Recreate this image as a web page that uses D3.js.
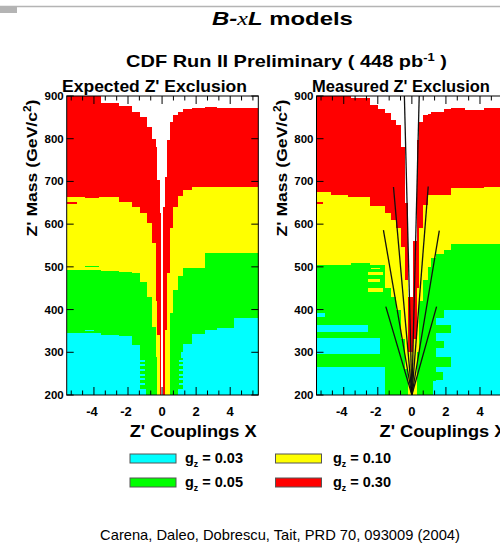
<!DOCTYPE html>
<html>
<head>
<meta charset="utf-8">
<script src="https://cdn.jsdelivr.net/npm/d3@7"></script>
<style>
  body { margin: 0; background: #fff; }
  svg { display: block; }
  text { font-family: "Liberation Sans", Arial, Helvetica, sans-serif; fill: #000; }
</style>
</head>
<body>
<svg id="chart" width="500" height="544"></svg>
<script>
// ---- legend / couplings ----
const couplingLabels = ["0.03", "0.05", "0.10", "0.30"];
const couplingColors = ["#00ffff", "#00ff00", "#ffff00", "#ff0000"];

// ---- axes ----
const xTickLabels = [-4, -2, 0, 2, 4];
const massTickLabels = [200, 300, 400, 500, 600, 700, 800, 900];

// ---- expected exclusion: x bin edges and mass limit (GeV) per coupling ----
const expEdges = [-5.6, -4.5, -3.6, -2.55, -1.8, -1.3, -0.9, -0.61, -0.41, -0.31, -0.16, -0.08,
                  0.08, 0.18, 0.3, 0.47, 0.67, 0.96, 1.25, 1.75, 2.5, 3.2, 4.2, 5.7];
const expLimit030 = [905, 905, 883, 877, 862, 851, 827, 800, 780, 703, 626, 0,
                     640, 710, 797, 839, 855, 862, 870, 873, 874, 873, 872];
const expLimit010 = [663, 663, 663, 653, 641, 625, 602, 555, 420, 340, 0, 0,
                     0, 352, 485, 590, 640, 665, 680, 686, 686, 686, 686];
const expLimit005 = [492, 492, 491, 488, 486, 465, 430, 360, 290, 0, 0, 0,
                     0, 0, 0, 391, 445, 478, 497, 497, 533, 533, 533];
const expLimit003 = [345, 345, 340, 337, 318, 0, 0, 0, 0, 0, 0, 0,
                     0, 0, 0, 0, 0, 0, 320, 342, 352, 356, 380];
// isolated cells: [coupling index, x0, x1, mass0, mass1]
const expPatches = [
  [3, -5.6, -5.0, 647, 651],
  [3, -4.5, -3.7, 662, 666],
  [1, -4.5, -3.7, 499, 503],
  [0, -4.5, -4.0, 349, 353],
  [1, 3.2, 3.9, 526, 529],
  [0, -1.3, -1.0, 278, 283], [0, -1.3, -1.0, 267, 272], [0, -1.3, -1.0, 256, 261],
  [0, -1.3, -1.0, 245, 250], [0, -1.3, -1.0, 234, 239], [0, -1.3, -1.0, 223, 228],
  [0, -1.3, -0.95, 200, 214],
  [0, 1.0, 1.25, 278, 283], [0, 1.0, 1.25, 267, 272], [0, 1.0, 1.25, 256, 261],
  [0, 1.0, 1.25, 245, 250], [0, 1.0, 1.25, 234, 239], [0, 1.0, 1.25, 223, 228],
  [0, 0.96, 1.25, 200, 214], [0, 1.1, 1.25, 286, 300]
];

// ---- measured exclusion ----
const measEdges = [-5.6, -4.76, -3.78, -3.59, -2.51, -2.02, -1.63, -1.24, -0.94, -0.65, -0.45, -0.25,
                   0.04, 0.29, 0.43, 0.63, 0.92, 1.12, 1.41, 1.9, 2.29, 3.08, 4.25, 5.7];
const measLimit030 = [905, 905, 905, 895, 879, 870, 860, 844, 832, 780, 650, 430,
                      560, 797, 839, 855, 858, 862, 862, 870, 872, 868, 872];
const measLimit010 = [676, 668, 663, 663, 643, 643, 626, 610, 590, 547, 470, 300,
                      330, 450, 590, 645, 668, 668, 668, 668, 685, 685, 686];
const measLimit005 = [504, 504, 504, 510, 505, 505, 450, 430, 400, 330, 260, 0,
                      0, 300, 420, 470, 500, 520, 530, 540, 553, 553, 553];
const measLimit003 = [266, 266, 266, 266, 266, 266, 0, 0, 0, 0, 0, 0,
                      0, 0, 0, 0, 0, 0, 380, 399, 399, 399, 399];
const measPatches = [
  [3, -5.6, -5.2, 647, 651],
  [0, -5.6, -1.85, 297, 333],
  [0, -5.6, -2.6, 348, 364],
  [0, -5.6, -5.1, 383, 391],
  [0, -1.77, -1.63, 200, 266],
  [1, 1.1, 2.3, 344, 364],
  [1, 1.1, 1.9, 310, 326],
  [1, 1.1, 2.3, 266, 290],
  [1, 1.1, 1.8, 235, 255],
  [0, 1.25, 1.41, 200, 232],
  [2, -2.6, -1.72, 441, 450],
  [2, -2.6, -1.9, 465, 471],
  [2, -2.6, -1.72, 480, 488],
  [2, -2.4, -1.9, 494, 498]
];
// model lines drawn on the measured panel, from (0, 200) to these points
const modelLines = [[-1.53, 407], [-1.67, 586], [-1.08, 687], [-0.44, 900],
                    [1.45, 407], [1.61, 585], [0.96, 688], [0.43, 900]];

const svg = d3.select("#chart");

// decoration at the very top
svg.append("line").attr("x1", 0).attr("x2", 500).attr("y1", 6.5).attr("y2", 6.5)
   .attr("stroke", "#b4b4b4").attr("stroke-width", 1.5);
svg.append("rect").attr("x", 0).attr("y", 6).attr("width", 17).attr("height", 7).attr("fill", "#b4b4b4");

// stretch a text element horizontally to a given width
function fit(sel, width) {
  const w = sel.node().getComputedTextLength();
  const x = +sel.attr("x"), y = +sel.attr("y");
  const s = width / w;
  sel.attr("transform", `translate(${x},${y}) scale(${s},1) translate(${-x},${-y})`);
  return sel;
}

// titles
const t1 = svg.append("text").attr("x", 282.5).attr("y", 25).attr("text-anchor", "middle")
  .style("font-size", "18px").style("font-weight", "bold");
t1.append("tspan").style("font-style", "italic").text("B-");
t1.append("tspan").style("font-style", "italic").style("font-weight", "normal")
  .style("font-family", "'Liberation Serif', serif").text("x");
t1.append("tspan").style("font-style", "italic").text("L");
t1.append("tspan").text(" models");
fit(t1, 141);

const t2 = svg.append("text").attr("x", 286.5).attr("y", 67).attr("text-anchor", "middle")
  .style("font-size", "17px").style("font-weight", "bold");
t2.append("tspan").text("CDF Run II Preliminary ( 448 pb");
t2.append("tspan").attr("dy", -6).style("font-size", "11px").text("-1");
t2.append("tspan").attr("dy", 6).text(" )");
fit(t2, 321);

function panel(opts) {
  const x = d3.scaleLinear().domain([-5.6, 5.65]).range([opts.left, opts.left + 191.6]);
  const y = d3.scaleLinear().domain([200, 900]).range([395, 96]);
  const g = svg.append("g");
  const clipId = "clip" + opts.id;
  g.append("clipPath").attr("id", clipId).append("rect")
    .attr("x", x.range()[0]).attr("y", 96).attr("width", 191.6).attr("height", 299);
  const area = g.append("g").attr("clip-path", `url(#${clipId})`).attr("shape-rendering", "crispEdges");
  area.append("rect").attr("x", x.range()[0]).attr("y", 96).attr("width", 191.6).attr("height", 299).attr("fill", "#fff");

  const bins = d3.range(opts.edges.length - 1).map(i => ({ x0: opts.edges[i], x1: opts.edges[i + 1], i }));
  // paint the widest exclusions first, stronger couplings cover weaker ones
  [3, 2, 1, 0].forEach(c => {
    const lim = opts.limits[c];
    area.append("g").selectAll("rect").data(bins.filter(b => lim[b.i] > 200)).join("rect")
      .attr("x", b => x(b.x0)).attr("width", b => x(b.x1) - x(b.x0) + 0.5)
      .attr("y", b => y(lim[b.i])).attr("height", b => y(200) - y(lim[b.i]) + 1)
      .attr("fill", couplingColors[c]);
  });
  area.append("g").selectAll("rect").data(opts.patches || []).join("rect")
    .attr("x", p => x(p[1])).attr("width", p => x(p[2]) - x(p[1]))
    .attr("y", p => y(p[4])).attr("height", p => y(p[3]) - y(p[4]) + (p[3] === 200 ? 1 : 0))
    .attr("fill", p => couplingColors[p[0]]);

  if (opts.lines) {
    area.append("g").attr("shape-rendering", "auto").selectAll("line").data(opts.lines).join("line")
      .attr("x1", x(0)).attr("y1", y(200)).attr("x2", d => x(d[0])).attr("y2", d => y(d[1]))
      .attr("stroke", "#111").attr("stroke-width", 1.3);
  }

  // frame and ticks
  const axes = g.append("g").attr("stroke", "#000").attr("stroke-width", 1);
  const x0 = x.range()[0], x1 = x.range()[1];
  axes.append("rect").attr("x", x0).attr("y", 96).attr("width", x1 - x0).attr("height", 299).attr("fill", "none");
  const minor = d3.range(-16, 17).map(k => k * 2 / 3).filter(v => v > -5.6 && v < 5.65);
  minor.forEach(v => {
    const major = Math.abs(v - Math.round(v)) < 1e-6 && Math.round(v) % 2 === 0;
    const len = major ? 8 : 4.5;
    axes.append("line").attr("x1", x(v)).attr("x2", x(v)).attr("y1", 395).attr("y2", 395 - len);
    axes.append("line").attr("x1", x(v)).attr("x2", x(v)).attr("y1", 96).attr("y2", 96 + len);
  });
  massTickLabels.forEach(m => {
    axes.append("line").attr("x1", x0).attr("x2", x0 + 7).attr("y1", y(m)).attr("y2", y(m));
    axes.append("line").attr("x1", x1).attr("x2", x1 - 7).attr("y1", y(m)).attr("y2", y(m));
  });

  // tick labels
  g.append("g").selectAll("text").data(massTickLabels).join("text")
    .attr("x", x0 - 3).attr("y", m => y(m) + 4).attr("text-anchor", "end")
    .style("font-size", "11.5px").style("font-weight", "bold").text(d => d);
  g.append("g").selectAll("text").data(xTickLabels).join("text")
    .attr("x", v => x(v) - (v < 0 ? 2 : 0)).attr("y", 416).attr("text-anchor", "middle")
    .style("font-size", "13px").style("font-weight", "bold").text(d => d);

  // axis titles
  const xt = g.append("text").attr("x", opts.left + 63).attr("y", 437)
    .style("font-size", "16px").style("font-weight", "bold").text("Z' Couplings X");
  fit(xt, 127);
  const yt = g.append("text").attr("x", 0).attr("y", 0).attr("text-anchor", "middle")
    .style("font-size", "15px").style("font-weight", "bold");
  yt.append("tspan").text("Z' Mass (GeV/c");
  yt.append("tspan").attr("dy", -6).style("font-size", "10px").text("2");
  yt.append("tspan").attr("dy", 6).text(")");
  const yw = yt.node().getComputedTextLength();
  yt.attr("transform", `translate(${opts.left - 30},168) rotate(-90) scale(${137 / yw},1)`);

  const pt = g.append("text").attr("x", opts.titleX).attr("y", 92).attr("text-anchor", "middle")
    .style("font-size", "16px").style("font-weight", "bold").text(opts.title);
  fit(pt, opts.titleW);
}

panel({ id: "exp", left: 66.7, edges: expEdges,
        limits: [expLimit003, expLimit005, expLimit010, expLimit030],
        patches: expPatches,
        title: "Expected Z' Exclusion", titleX: 154.5, titleW: 185 });
panel({ id: "meas", left: 316.5, edges: measEdges,
        limits: [measLimit003, measLimit005, measLimit010, measLimit030],
        patches: measPatches, lines: modelLines,
        title: "Measured Z' Exclusion", titleX: 401, titleW: 178 });

// legend
const legendItems = couplingLabels.map((lab, i) => ({ lab, i, col: i < 2 ? 0 : 1, row: i % 2 }));
const lg = svg.append("g");
legendItems.forEach(d => {
  const bx = d.col === 0 ? 130 : 275.5;
  const by = d.row === 0 ? 454 : 478;
  lg.append("rect").attr("x", bx).attr("y", by).attr("width", 46).attr("height", 9)
    .attr("fill", couplingColors[d.i]).attr("stroke", "#555").attr("stroke-width", 1);
  const tx = d.col === 0 ? 185 : 333;
  const t = lg.append("text").attr("x", tx).attr("y", by + 9)
    .style("font-size", "15px").style("font-weight", "bold");
  t.append("tspan").text("g");
  t.append("tspan").attr("dy", 4).style("font-size", "9px").text("z");
  t.append("tspan").attr("dy", -4).text(" = " + d.lab);
  fit(t, 58);
});

// reference
const cite = svg.append("text").attr("x", 280).attr("y", 540).attr("text-anchor", "middle")
  .style("font-size", "14px").text("Carena, Daleo, Dobrescu, Tait, PRD 70, 093009 (2004)");
fit(cite, 360);
</script>
</body>
</html>
